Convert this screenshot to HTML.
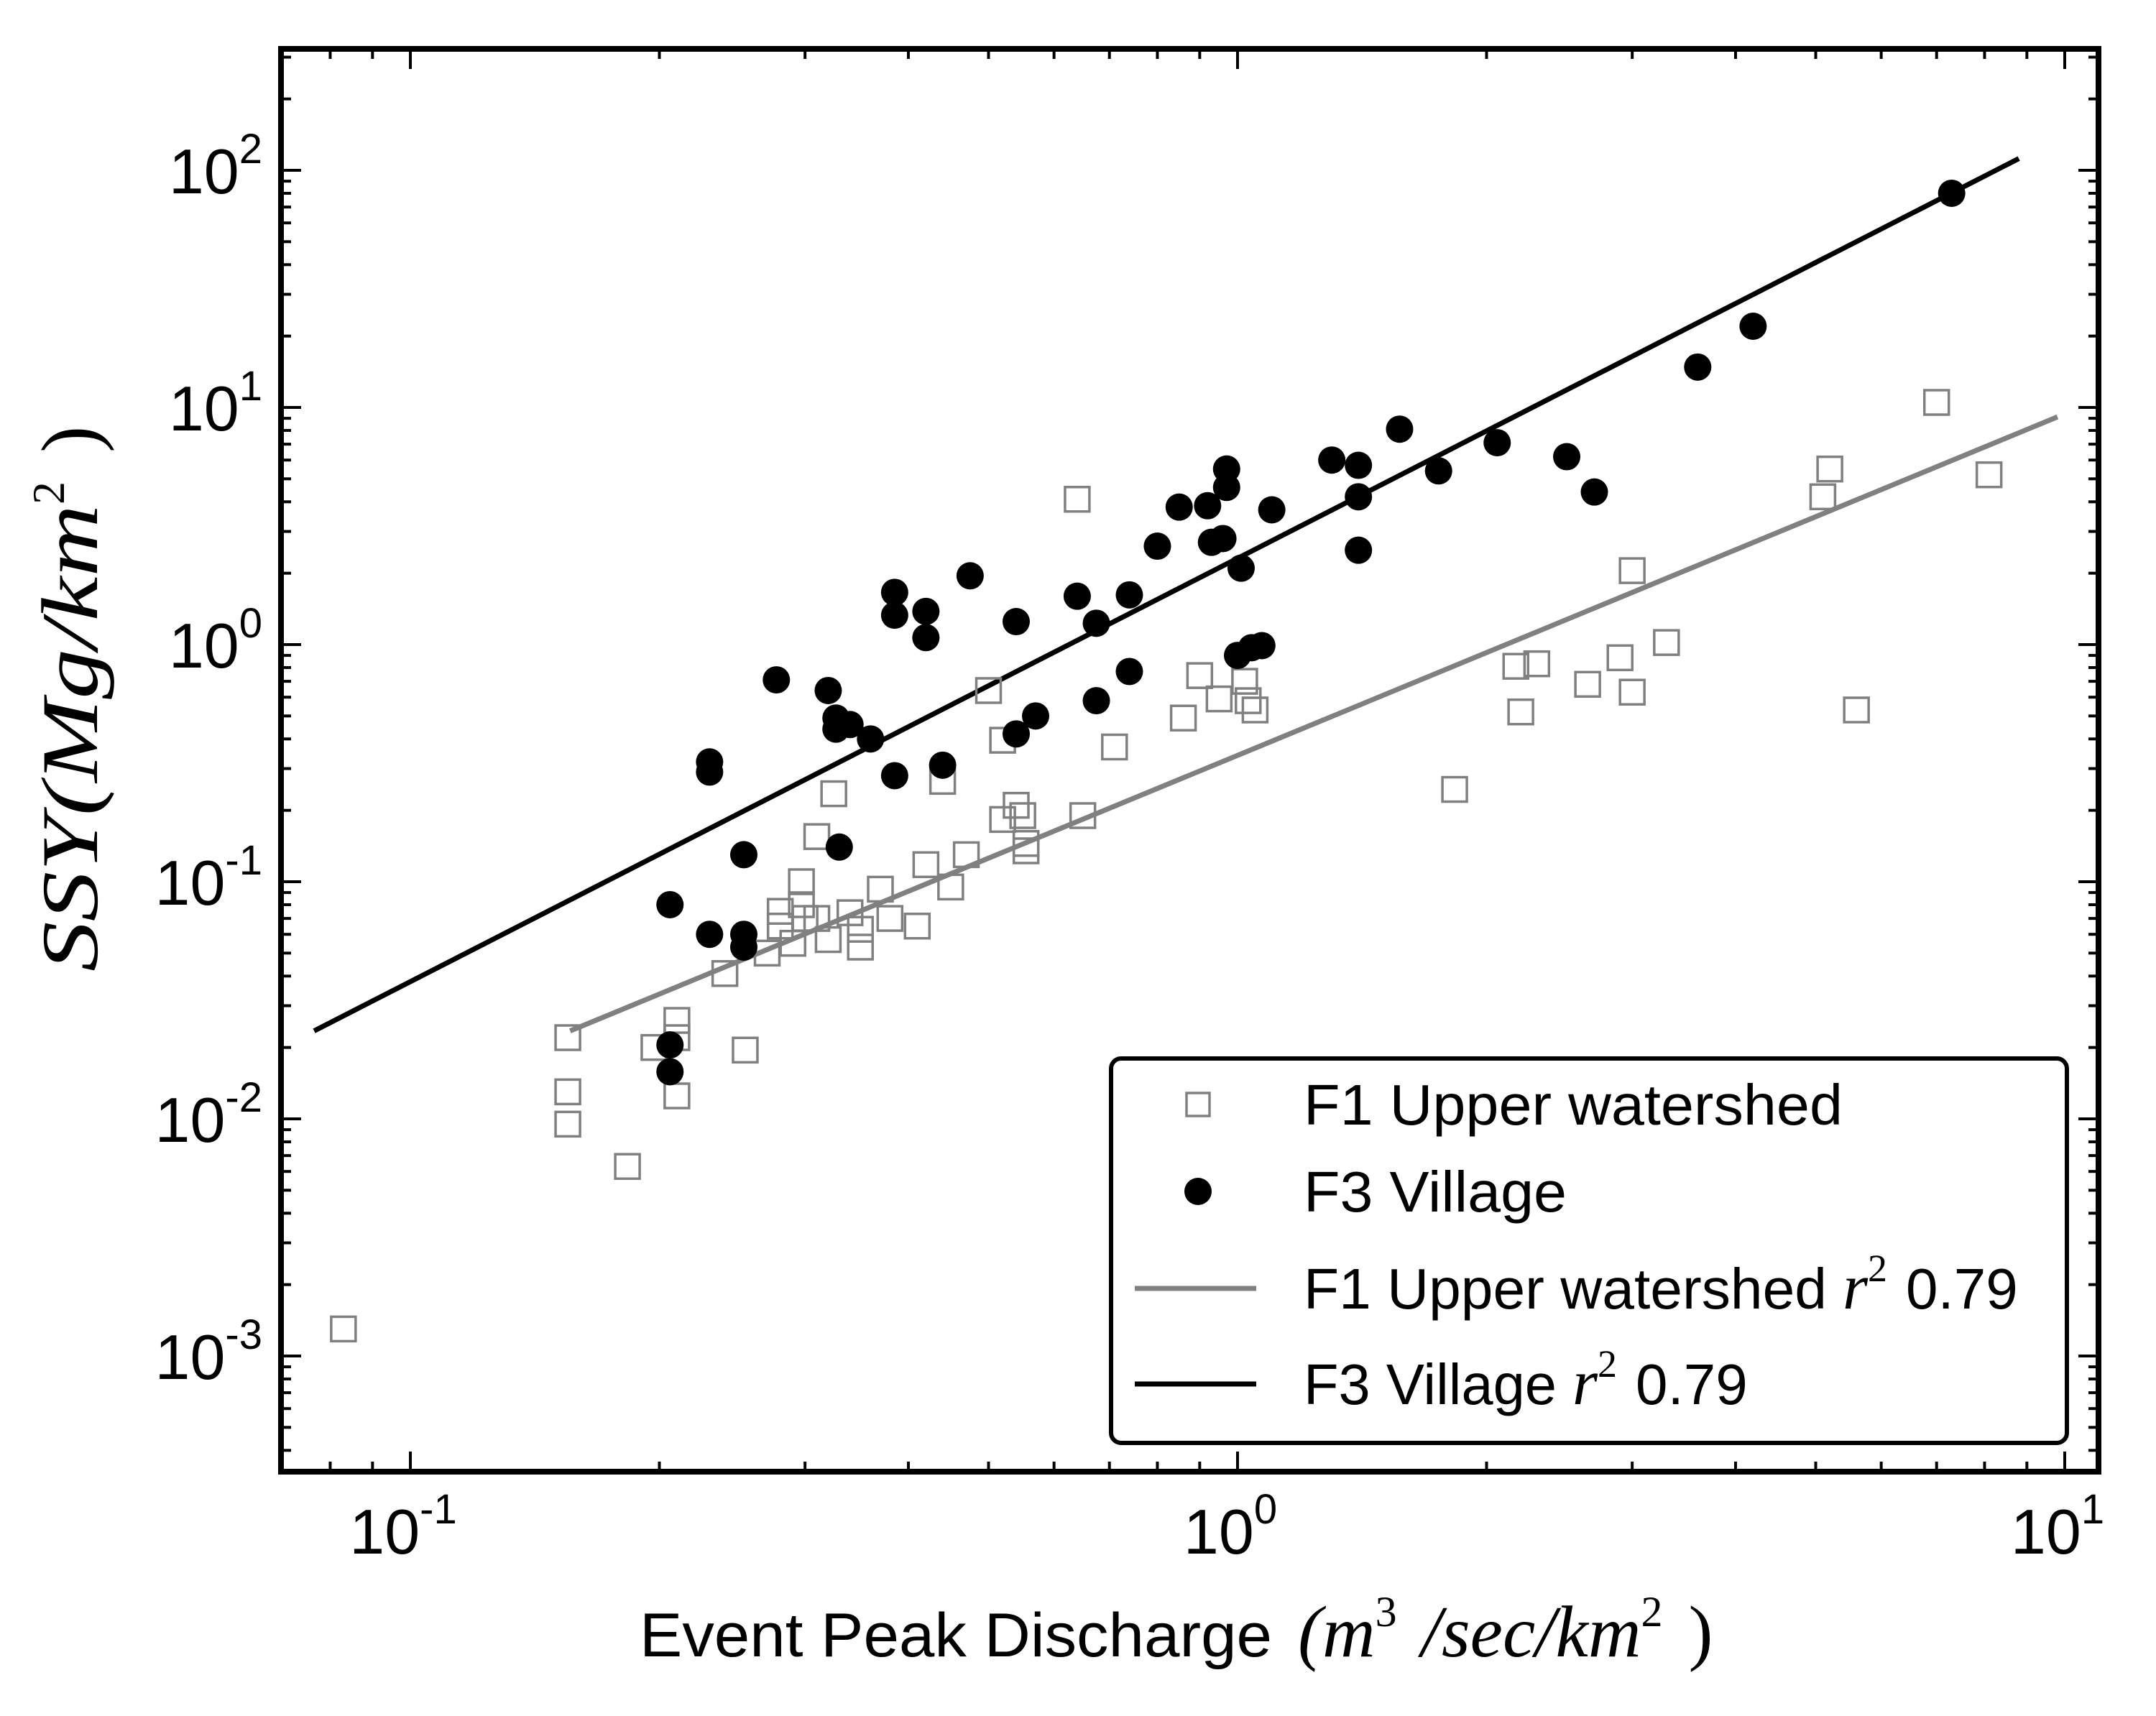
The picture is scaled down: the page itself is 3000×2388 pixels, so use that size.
<!DOCTYPE html>
<html><head><meta charset="utf-8"><style>
html,body{margin:0;padding:0;background:#fff}
svg{display:block}
</style></head><body>
<svg id="chart" width="3000" height="2388" viewBox="0 0 3000 2388" xmlns="http://www.w3.org/2000/svg">
<g id="plot"></g>
<g id="legend">
  <rect x="1546" y="1473" width="1330" height="535" rx="14" fill="#fff" stroke="#000" stroke-width="6"/>
  <rect x="1651" y="1521" width="32" height="32" fill="none" stroke="#808080" stroke-width="3.5"/>
  <text x="1814" y="1565" font-family="Liberation Sans, sans-serif" font-size="80" textLength="750" lengthAdjust="spacingAndGlyphs">F1 Upper watershed</text>
  <circle cx="1667" cy="1658" r="19" fill="#000"/>
  <text x="1814" y="1686" font-family="Liberation Sans, sans-serif" font-size="80" textLength="366" lengthAdjust="spacingAndGlyphs">F3 Village</text>
  <line x1="1579" y1="1793" x2="1748" y2="1793" stroke="#808080" stroke-width="7"/>
  <text x="1814" y="1821" font-family="Liberation Sans, sans-serif" font-size="80"><tspan textLength="728" lengthAdjust="spacingAndGlyphs">F1 Upper watershed</tspan><tspan font-family="Liberation Serif, serif" font-style="italic" font-size="90" dx="22">r</tspan><tspan font-family="Liberation Serif, serif" font-size="54" dy="-38">2</tspan><tspan dy="38" dx="26">0.79</tspan></text>
  <line x1="1579" y1="1926" x2="1748" y2="1926" stroke="#000" stroke-width="7"/>
  <text x="1814" y="1954" font-family="Liberation Sans, sans-serif" font-size="80"><tspan textLength="352" lengthAdjust="spacingAndGlyphs">F3 Village</tspan><tspan font-family="Liberation Serif, serif" font-style="italic" font-size="90" dx="22">r</tspan><tspan font-family="Liberation Serif, serif" font-size="54" dy="-38">2</tspan><tspan dy="38" dx="26">0.79</tspan></text>
</g>
<text x="890" y="2305" font-family="Liberation Sans, sans-serif" font-size="86"><tspan textLength="880" lengthAdjust="spacingAndGlyphs">Event Peak Discharge</tspan><tspan font-family="Liberation Serif, serif" font-style="italic" font-size="102" dx="36">(m</tspan><tspan font-family="Liberation Serif, serif" font-size="60" dy="-42">3</tspan><tspan font-family="Liberation Serif, serif" font-style="italic" font-size="102" dy="42" dx="34">/sec/km</tspan><tspan font-family="Liberation Serif, serif" font-size="60" dy="-42">2</tspan><tspan font-family="Liberation Serif, serif" font-size="102" dy="42" dx="36">)</tspan></text>
<text transform="translate(135,1352) rotate(-90)" font-family="Liberation Serif, serif" font-style="italic" font-size="112"><tspan textLength="650" lengthAdjust="spacingAndGlyphs">SSY(Mg/km</tspan><tspan font-size="64" font-style="normal" dy="-46">2</tspan><tspan dy="46" dx="40" font-style="normal">)</tspan></text>
</svg>
<script>
const f1X = [0.083,0.155,0.155,0.155,0.183,0.197,0.21,0.21,0.21,0.254,0.24,0.27,0.28,0.28,0.29,0.297,0.297,0.3,0.31,0.31,0.325,0.32,0.34,0.35,0.35,0.37,0.38,0.41,0.42,0.44,0.45,0.47,0.5,0.52,0.52,0.54,0.55,0.555,0.555,0.64,0.65,0.71,0.86,0.9,0.95,1.02,1.03,1.05,1.83,2.17,2.2,2.3,2.65,2.9,3.0,3.0,3.3,5.1,5.2,5.6,7.0,8.1];
const f1Y = [0.0013,0.022,0.013,0.0095,0.0063,0.02,0.026,0.022,0.0125,0.0195,0.041,0.05,0.075,0.065,0.055,0.1,0.08,0.07,0.07,0.155,0.235,0.057,0.074,0.053,0.063,0.093,0.07,0.065,0.118,0.265,0.095,0.13,0.64,0.395,0.183,0.21,0.19,0.145,0.135,4.1,0.19,0.37,0.49,0.74,0.59,0.7,0.58,0.53,0.245,0.81,0.52,0.83,0.68,0.88,0.63,2.05,1.02,4.2,5.5,0.53,10.5,5.2];
const f3X = [0.206,0.206,0.206,0.23,0.23,0.23,0.253,0.253,0.253,0.277,0.32,0.327,0.327,0.33,0.34,0.36,0.385,0.385,0.385,0.42,0.42,0.44,0.475,0.54,0.54,0.57,0.64,0.675,0.675,0.74,0.74,0.8,0.85,0.92,0.93,0.96,0.97,0.97,1.01,1.0,1.04,1.07,1.1,1.3,1.4,1.4,1.4,1.57,1.75,2.06,2.5,2.7,3.6,4.2,7.3];
const f3Y = [0.08,0.0205,0.0158,0.32,0.29,0.06,0.13,0.06,0.053,0.71,0.64,0.49,0.44,0.14,0.46,0.4,1.66,1.33,0.28,1.38,1.07,0.31,1.95,1.25,0.42,0.5,1.6,1.23,0.58,1.62,0.77,2.6,3.8,3.85,2.7,2.8,4.6,5.5,2.1,0.9,0.97,0.99,3.7,6.0,5.7,4.2,2.5,8.1,5.4,7.1,6.2,4.4,14.8,22,80];
const fitF1 = [0.341, 1.44, 0.156, 9.8];   // a, b, xmin, xmax
const fitF3 = [2.31, 1.785, 0.0765, 8.8];
const xTickExp = [-1, 0, 1];
const yTickExp = [-3, -2, -1, 0, 1, 2];

const NS = 'http://www.w3.org/2000/svg';
const L = 391, R = 2920, T = 68, B = 2048;
function X(v){ return 1722 + Math.log10(v) * 1151; }
function Y(v){ return 237 + (2 - Math.log10(v)) * 330; }
const plot = document.getElementById('plot');
function mk(tag, attrs, parent){ const e = document.createElementNS(NS, tag); for (const k in attrs) e.setAttribute(k, attrs[k]); (parent||plot).appendChild(e); return e; }

const tg = mk('g', {stroke:'#000','stroke-width':4});


for (let e = -2; e <= 1; e++) for (let m = 1; m <= 9; m++) {
  const v = m * Math.pow(10, e); const x = X(v);
  if (x < L || x > R) continue;
  const len = m === 1 ? 28 : 14;
  mk('line', {x1:x, y1:B, x2:x, y2:B-len}, tg);
  mk('line', {x1:x, y1:T, x2:x, y2:T+len}, tg);
}
for (let e = -4; e <= 2; e++) for (let m = 1; m <= 9; m++) {
  const v = m * Math.pow(10, e); const y = Y(v);
  if (y < T || y > B) continue;
  const len = m === 1 ? 28 : 14;
  mk('line', {x1:L, y1:y, x2:L+len, y2:y}, tg);
  mk('line', {x1:R, y1:y, x2:R-len, y2:y}, tg);
}
xTickExp.forEach(e => {
  const t = mk('text', {x: X(Math.pow(10,e)) - 10, y: 2162, 'text-anchor':'middle', 'font-family':'Liberation Sans, sans-serif', 'font-size':88});
  
  
  t.innerHTML = '10<tspan font-size="58" dy="-42">' + e + '</tspan>';
});
yTickExp.forEach(e => {
  const t = mk('text', {x: 365, y: Y(Math.pow(10,e)) + 32, 'text-anchor':'end', 'font-family':'Liberation Sans, sans-serif', 'font-size':88});
  
  
  t.innerHTML = '10<tspan font-size="58" dy="-42">' + e + '</tspan>';
});
function fitLine(p, color, name){
  const l = mk('line', {x1:X(p[2]), y1:Y(p[0]*Math.pow(p[2],p[1])), x2:X(p[3]), y2:Y(p[0]*Math.pow(p[3],p[1])), stroke:color, 'stroke-width':7});
  
  
}
fitLine(fitF1, '#808080', 'fit-line-f1');
fitLine(fitF3, '#000', 'fit-line-f3');
f1X.forEach((v,i) => {
  const r = mk('rect', {x:X(v)-17, y:Y(f1Y[i])-17, width:34, height:34, fill:'none', stroke:'#808080', 'stroke-width':3.5});
  
  
});
f3X.forEach((v,i) => {
  const c = mk('circle', {cx:X(v), cy:Y(f3Y[i]), r:19, fill:'#000'});
  
  
});
const fr = mk('rect', {x:L, y:T, width:R-L, height:B-T, fill:'none', stroke:'#000', 'stroke-width':8});


</script>
</body></html>
